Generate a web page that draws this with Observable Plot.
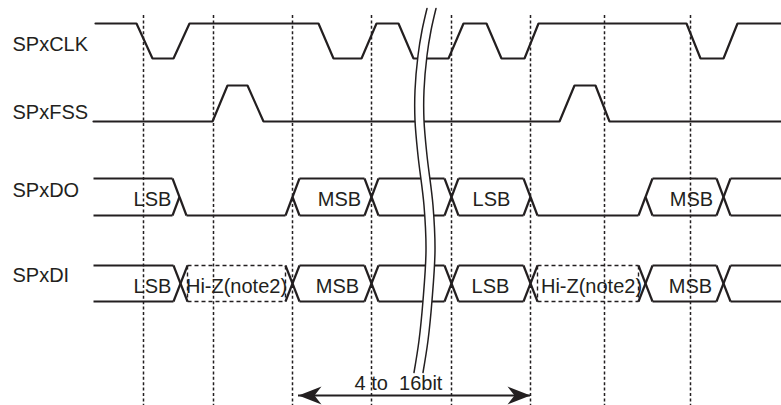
<!DOCTYPE html>
<html>
<head>
<meta charset="utf-8">
<script src="https://cdn.jsdelivr.net/npm/d3@7"></script>
<script src="https://cdn.jsdelivr.net/npm/@observablehq/plot@0.6"></script>
<style>
  html, body { margin: 0; padding: 0; background: #fff; }
  svg text { white-space: pre; }
</style>
</head>
<body>
<div id="chart"></div>
<script>
// ---- data (time axis in diagram units) ----
const signalNames = ["SPxCLK", "SPxFSS", "SPxDO", "SPxDI"];

const clkTimes  = [95, 136, 152, 173, 189, 318, 333, 361, 376, 398, 413, 448, 463, 486, 501, 524, 538, 686, 700, 723, 737, 781];
const clkLevels = [1, 1, 0, 0, 1, 1, 0, 0, 1, 1, 0, 0, 1, 1, 0, 0, 1, 1, 0, 0, 1, 1];

const fssTimes  = [93, 212, 227, 247, 263, 559, 574, 595, 609, 781];
const fssLevels = [0, 0, 1, 1, 0, 0, 1, 1, 0, 0];

const doTimes   = [93, 179, 292, 371, 451, 530, 645, 723, 781];
const doStates  = ["data", "low", "data", "data", "data", "low", "data", "data"];
const doLabels  = ["LSB", "", "MSB", "", "LSB", "", "MSB", ""];
const doLabelAt = [152, null, 339, null, 491, null, 691, null];

const diTimes   = [93, 180, 292, 371, 451, 530, 645, 723, 781];
const diStates  = ["data", "hiz", "data", "data", "data", "hiz", "data", "data"];
const diLabels  = ["LSB", "Hi-Z(note2)", "MSB", "", "LSB", "Hi-Z(note2)", "MSB", ""];
const diLabelAt = [152, 236, 337, null, 490, 591, 690, null];

const gridTimes = [143, 213, 292, 371, 451, 530, 604, 690];

const spanTimes = [298, 530];
const spanLabel = "4 to  16bit";

// break mark path (time, vertical position)
const breakX = [431, 426, 422, 419, 419, 422, 428, 430, 427, 423, 418];
const breakY = [8, 30, 55, 90, 120, 155, 205, 250, 300, 340, 372];

// ---- layout ----
const rowHigh = [23, 85, 178, 265];
const rowLow  = [58, 121, 215, 301];
const nameY   = [44, 112, 190, 275];
const nameX   = 12;
const edge = 7;
const ink = "#231f20";

function wave(times, levels, r) {
  return times.map((t, i) => ({t, y: levels[i] ? rowHigh[r] : rowLow[r]}));
}

function busSegs(times, states, r) {
  const top = rowHigh[r], bot = rowLow[r], mid = (top + bot) / 2, w = edge;
  const segs = [];
  const n = states.length;
  for (let i = 0; i < n; i++) {
    const s = states[i];
    const a = i === 0 ? times[0] : times[i] + w;
    const b = i === n - 1 ? times[n] : times[i + 1] - w;
    if (s === "data") {
      segs.push({x1: a, y1: top, x2: b, y2: top, dash: false});
      segs.push({x1: a, y1: bot, x2: b, y2: bot, dash: false});
    } else if (s === "low") {
      segs.push({x1: a, y1: bot, x2: b, y2: bot, dash: false});
    } else if (s === "hiz") {
      segs.push({x1: a, y1: top, x2: b, y2: top, dash: true});
      segs.push({x1: a, y1: bot, x2: b, y2: bot, dash: true});
      segs.push({x1: a, y1: top, x2: a, y2: bot, dash: true});
      segs.push({x1: b, y1: top, x2: b, y2: bot, dash: true});
    }
  }
  for (let i = 1; i < n; i++) {
    const t = times[i], A = states[i - 1], B = states[i];
    const aTop = A !== "low", aBot = true, bTop = B !== "low", bBot = true;
    if (aTop) segs.push(bBot ? {x1: t - w, y1: top, x2: t + w, y2: bot} : {x1: t - w, y1: top, x2: t, y2: mid});
    if (aBot) segs.push(bTop ? {x1: t - w, y1: bot, x2: t + w, y2: top} : {x1: t - w, y1: bot, x2: t, y2: mid});
    if (bBot && !aTop) segs.push({x1: t, y1: mid, x2: t + w, y2: bot});
    if (bTop && !aBot) segs.push({x1: t, y1: mid, x2: t + w, y2: top});
  }
  return segs.map(d => ({...d, dash: !!d.dash}));
}

function busText(labels, at, r) {
  const top = rowHigh[r], bot = rowLow[r];
  return labels.map((l, i) => ({text: l, t: at[i], y: (top + bot) / 2 + 3})).filter(d => d.text);
}

const clk = wave(clkTimes, clkLevels, 0);
const fss = wave(fssTimes, fssLevels, 1);
const segs = [...busSegs(doTimes, doStates, 2), ...busSegs(diTimes, diStates, 3)];
const busLabels = [...busText(doLabels, doLabelAt, 2), ...busText(diLabels, diLabelAt, 3)];
const names = signalNames.map((s, i) => ({s, y: nameY[i]}));
const breakPts = breakX.map((x, i) => ({x, y: breakY[i]}));

const headRight = {draw(ctx) { ctx.moveTo(0, 0); ctx.lineTo(-23, -9); ctx.lineTo(-16, 0); ctx.lineTo(-23, 9); ctx.closePath(); }};
const headLeft  = {draw(ctx) { ctx.moveTo(0, 0); ctx.lineTo(23, -9); ctx.lineTo(16, 0); ctx.lineTo(23, 9); ctx.closePath(); }};

const chart = Plot.plot({
  width: 781,
  height: 405,
  margin: 0,
  x: {domain: [0, 781], range: [0, 781], axis: null},
  y: {domain: [0, 405], range: [0, 405], axis: null},
  style: {background: "#fff", fontFamily: "'Liberation Sans', Arial, sans-serif", color: ink},
  marks: [
    Plot.line(clk, {x: "t", y: "y", stroke: ink, strokeWidth: 2.2, strokeLinejoin: "miter"}),
    Plot.line(fss, {x: "t", y: "y", stroke: ink, strokeWidth: 2.2, strokeLinejoin: "miter"}),
    Plot.link(segs.filter(d => !d.dash), {x1: "x1", y1: "y1", x2: "x2", y2: "y2", stroke: ink, strokeWidth: 2.2}),
    Plot.link(segs.filter(d => d.dash), {x1: "x1", y1: "y1", x2: "x2", y2: "y2", stroke: ink, strokeWidth: 1.4, strokeDasharray: "4,3"}),
    // break mark
    Plot.line(breakPts, {x: "x", y: "y", curve: "catmull-rom", stroke: "#fff", strokeWidth: 9}),
    Plot.line(breakPts, {x: "x", y: "y", curve: "catmull-rom", stroke: ink, strokeWidth: 1.5, dx: -4.5}),
    Plot.line(breakPts, {x: "x", y: "y", curve: "catmull-rom", stroke: ink, strokeWidth: 1.5, dx: 4.5}),
    // dashed timing guides
    Plot.ruleX(gridTimes, {x: d => d, y1: 15, y2: 405, stroke: ink, strokeWidth: 1.5, strokeDasharray: "3,2.4"}),
    // labels
    Plot.text(names, {x: nameX, y: "y", text: "s", textAnchor: "start", fontSize: 20, fill: ink}),
    Plot.text(busLabels, {x: "t", y: "y", text: "text", fontSize: 20, fill: ink}),
    // span arrow
    Plot.ruleY([395], {x1: spanTimes[0], x2: spanTimes[1], stroke: ink, strokeWidth: 2.2}),
    Plot.dot([spanTimes[0]], {x: d => d, y: 395, symbol: headLeft, fill: ink, stroke: "none"}),
    Plot.dot([spanTimes[1]], {x: d => d, y: 395, symbol: headRight, fill: ink, stroke: "none"}),
    Plot.text([spanLabel], {x: (spanTimes[0] + spanTimes[1]) / 2 - 16, y: 383, text: d => d, fontSize: 20, fill: ink})
  ]
});
document.getElementById("chart").appendChild(chart);
</script>
</body>
</html>
